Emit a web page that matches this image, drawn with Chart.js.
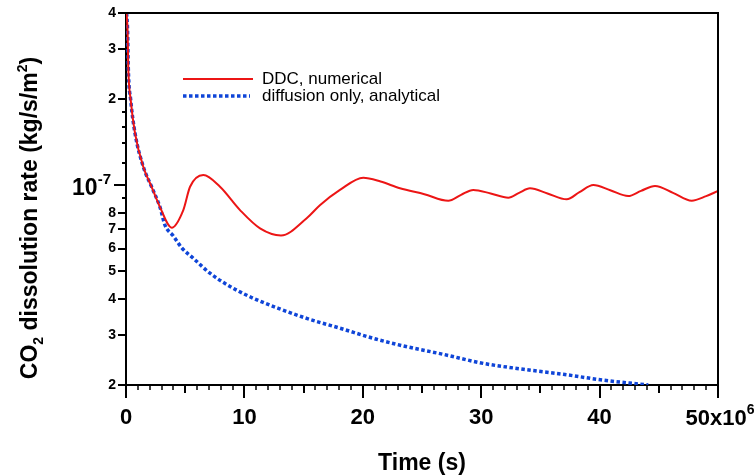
<!DOCTYPE html>
<html>
<head>
<meta charset="utf-8">
<script src="https://cdn.jsdelivr.net/npm/chart.js@4/dist/chart.umd.min.js"></script>
<style>
  html, body { margin: 0; padding: 0; background: #fff; }
  #myChart { display: block; }
</style>
</head>
<body>
<canvas id="myChart" width="755" height="476"></canvas>
<script>
// time in units of 1e6 s, rate in kg/s/m2
const timeDDC = [0.05, 0.14, 0.19, 0.40, 0.76, 1.46, 2.17, 2.87, 3.86, 4.84,
    5.41, 6.53, 7.94, 9.63, 11.32, 13.09, 15.26, 16.4, 18.07, 20.04,
    21.5, 23.14, 25.2, 27.22, 28.3, 29.33, 30.8, 32.29, 33.2, 34.12,
    35.6, 37.22, 38.3, 39.47, 40.9, 42.42, 43.5, 44.68, 46.2, 47.78,
    49.0, 50.0];
const rateDDC = [4.0e-7, 3.40e-7, 2.60e-7, 1.98e-7, 1.52e-7, 1.16e-7, 9.85e-8, 8.38e-8, 7.10e-8, 8.18e-8,
    9.87e-8, 1.085e-7, 9.87e-8, 8.18e-8, 7.06e-8, 6.67e-8, 7.66e-8, 8.52e-8, 9.62e-8, 1.062e-7,
    1.03e-7, 9.75e-8, 9.3e-8, 8.82e-8, 9.25e-8, 9.62e-8, 9.35e-8, 9.04e-8, 9.4e-8, 9.75e-8,
    9.35e-8, 8.92e-8, 9.45e-8, 1.001e-7, 9.6e-8, 9.16e-8, 9.55e-8, 9.93e-8, 9.4e-8, 8.82e-8,
    9.15e-8, 9.54e-8];

const timeDiffusion = [0.05, 0.14, 0.19, 0.40, 0.76, 1.46, 2.17, 2.87, 3.29, 4.0,
    4.70, 5.68, 7.09, 8.56, 10.47, 12.86, 15.26, 18.07, 21.17, 23.42,
    26.80, 30.18, 33.56, 36.93, 40.31, 44.11];
const rateDiffusion = [4.0e-7, 3.40e-7, 2.60e-7, 1.98e-7, 1.52e-7, 1.16e-7, 9.85e-8, 8.38e-8, 7.25e-8, 6.64e-8,
    6.04e-8, 5.55e-8, 4.92e-8, 4.48e-8, 4.07e-8, 3.71e-8, 3.42e-8, 3.16e-8, 2.89e-8, 2.74e-8,
    2.56e-8, 2.38e-8, 2.27e-8, 2.18e-8, 2.08e-8, 2.0e-8];

const seriesNames = ["DDC, numerical", "diffusion only, analytical"];

const xMajorTicks = [0, 10, 20, 30, 40, 50];
const xTickLabels = ["0", "10", "20", "30", "40", "50x10"];
const yTickValues = [2e-8, 3e-8, 4e-8, 5e-8, 6e-8, 7e-8, 8e-8, 9e-8, 1e-7,
    1.2e-7, 1.4e-7, 1.6e-7, 1.8e-7, 2e-7, 3e-7, 4e-7];
const yTickLabels = ["2", "3", "4", "5", "6", "7", "8", "", "10",
    "", "", "", "", "2", "3", "4"];

const FONT = "'Liberation Sans', Arial, sans-serif";
const RED = "#ec1515";
const BLUE = "#0f45d8";

function toPoints(xs, ys) {
    return xs.map((x, i) => ({ x: x, y: ys[i] }));
}

// text with a raised or lowered small part, left aligned at x
function drawParts(ctx, parts, x, y) {
    let cx = x;
    parts.forEach(p => {
        ctx.font = p.font;
        ctx.fillText(p.text, cx, y + (p.dy || 0));
        cx += ctx.measureText(p.text).width;
    });
    return cx - x;
}
function partsWidth(ctx, parts) {
    let w = 0;
    parts.forEach(p => { ctx.font = p.font; w += ctx.measureText(p.text).width; });
    return w;
}

const decorPlugin = {
    id: "decor",
    afterDraw(chart) {
        const ctx = chart.ctx;
        const a = chart.chartArea;
        const xs = chart.scales.x;
        const ys = chart.scales.y;
        ctx.save();
        ctx.strokeStyle = "#000";
        ctx.fillStyle = "#000";

        // box top and right
        ctx.lineWidth = 2;
        ctx.beginPath();
        ctx.moveTo(a.left, a.top);
        ctx.lineTo(a.right, a.top);
        ctx.lineTo(a.right, a.bottom);
        ctx.stroke();

        // x tick marks
        xs.ticks.forEach(t => {
            const v = t.value;
            const px = Math.round(xs.getPixelForValue(v));
            const len = v % 10 === 0 ? 13 : (v % 5 === 0 ? 8 : 5);
            ctx.lineWidth = v % 5 === 0 ? 2 : 1.5;
            ctx.beginPath();
            ctx.moveTo(px, a.bottom);
            ctx.lineTo(px, a.bottom + len);
            ctx.stroke();
        });

        // y tick marks
        ys.ticks.forEach((t, i) => {
            const py = Math.round(ys.getPixelForValue(t.value));
            const lab = yTickLabels[yTickValues.indexOf(t.value)];
            let len = lab ? 8 : 4;
            if (lab === "10") len = 12;
            ctx.lineWidth = 2;
            ctx.beginPath();
            ctx.moveTo(a.left - len, py);
            ctx.lineTo(a.left, py);
            ctx.stroke();
        });

        // power labels
        ctx.textBaseline = "alphabetic";
        const p7 = [
            { text: "10", font: "bold 23px " + FONT },
            { text: "-7", font: "bold 15px " + FONT, dy: -11 }
        ];
        const py7 = ys.getPixelForValue(1e-7);
        const w7 = partsWidth(ctx, p7);
        drawParts(ctx, p7, a.left - 15 - w7, py7 + 10);

        const p6 = [
            { text: xTickLabels[5], font: "bold 22px " + FONT },
            { text: "6", font: "bold 14px " + FONT, dy: -11 }
        ];
        const px50 = xs.getPixelForValue(50);
        const w6 = partsWidth(ctx, p6);
        drawParts(ctx, p6, px50 - w6 / 2 + 2, a.bottom + 40);

        // axis titles
        ctx.font = "bold 23px " + FONT;
        const xt = "Time (s)";
        const xw = ctx.measureText(xt).width;
        ctx.fillText(xt, (a.left + a.right) / 2 - xw / 2, 470);

        const yt = [
            { text: "CO", font: "bold 23px " + FONT },
            { text: "2", font: "bold 14px " + FONT, dy: 6 },
            { text: " dissolution rate (kg/s/m", font: "bold 23px " + FONT },
            { text: "2", font: "bold 14px " + FONT, dy: -10 },
            { text: ")", font: "bold 23px " + FONT }
        ];
        const yw = partsWidth(ctx, yt);
        ctx.save();
        ctx.translate(37, 218);
        ctx.rotate(-Math.PI / 2);
        drawParts(ctx, yt, -yw / 2, 0);
        ctx.restore();

        // legend
        ctx.lineWidth = 2;
        ctx.strokeStyle = RED;
        ctx.beginPath();
        ctx.moveTo(183, 79);
        ctx.lineTo(253, 79);
        ctx.stroke();
        ctx.lineWidth = 3.5;
        ctx.strokeStyle = BLUE;
        ctx.setLineDash([3.5, 2.5]);
        ctx.beginPath();
        ctx.moveTo(183, 96);
        ctx.lineTo(250, 96);
        ctx.stroke();
        ctx.setLineDash([]);
        ctx.font = "17px " + FONT;
        ctx.textBaseline = "middle";
        ctx.fillText(seriesNames[0], 262, 79);
        ctx.fillText(seriesNames[1], 262, 96);

        ctx.restore();
    }
};

const ctx = document.getElementById("myChart");
const chart = new Chart(ctx, {
    type: "line",
    data: {
        datasets: [
            {
                label: seriesNames[0],
                data: toPoints(timeDDC, rateDDC),
                borderColor: RED,
                borderWidth: 2,
                pointRadius: 0,
                cubicInterpolationMode: "monotone",
                fill: false
            },
            {
                label: seriesNames[1],
                data: toPoints(timeDiffusion, rateDiffusion),
                borderColor: BLUE,
                borderWidth: 3.5,
                borderDash: [3.5, 2.5],
                borderCapStyle: "butt",
                pointRadius: 0,
                cubicInterpolationMode: "monotone",
                fill: false
            }
        ]
    },
    options: {
        responsive: false,
        animation: false,
        devicePixelRatio: 1,
        layout: { padding: { left: 0, right: 37, top: 13, bottom: 0 } },
        plugins: {
            legend: { display: false },
            tooltip: { enabled: false }
        },
        scales: {
            x: {
                type: "linear",
                min: 0,
                max: 50,
                afterBuildTicks: (scale) => {
                    const list = [];
                    for (let v = 0; v <= 50; v++) list.push({ value: v });
                    scale.ticks = list;
                },
                afterFit: (scale) => {
                    scale.height = 91;
                    scale.paddingLeft = 0;
                    scale.paddingRight = 0;
                },
                grid: { display: false, drawTicks: false },
                border: { display: true, color: "#000", width: 2 },
                ticks: {
                    autoSkip: false,
                    maxRotation: 0,
                    padding: 20,
                    color: "#000",
                    font: { family: FONT, size: 22, weight: "bold" },
                    callback: (value) => {
                        const i = xMajorTicks.indexOf(value);
                        return (i >= 0 && i < 5) ? xTickLabels[i] : "";
                    }
                }
            },
            y: {
                type: "logarithmic",
                min: 2e-8,
                max: 4e-7,
                afterBuildTicks: (scale) => {
                    scale.ticks = yTickValues.map(v => ({ value: v }));
                },
                afterFit: (scale) => {
                    scale.width = 126;
                    scale.paddingTop = 0;
                    scale.paddingBottom = 0;
                },
                grid: { display: false, drawTicks: false },
                border: { display: true, color: "#000", width: 2 },
                ticks: {
                    autoSkip: false,
                    padding: 10,
                    color: "#000",
                    font: { family: FONT, size: 14, weight: "bold" },
                    callback: (value) => {
                        const lab = yTickLabels[yTickValues.indexOf(value)];
                        return (lab && lab !== "10") ? lab : "";
                    }
                }
            }
        }
    },
    plugins: [decorPlugin]
});
</script>
</body>
</html>
